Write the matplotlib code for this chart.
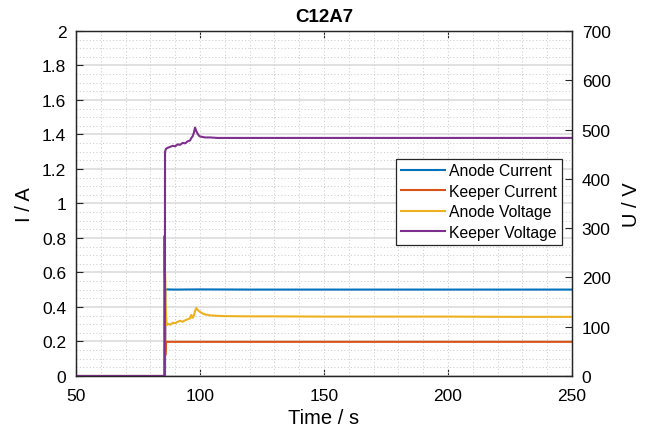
import matplotlib.pyplot as plt
from matplotlib.ticker import MultipleLocator

plt.rcParams['font.family'] = ['Liberation Sans', 'DejaVu Sans']

# Anode current / A
t_ia = [50, 85.9, 86.0, 90, 100, 120, 150, 200, 250]
ia = [0, 0, 0.502, 0.501, 0.502, 0.501, 0.501, 0.501, 0.501]

# Keeper current / A
t_ik = [50, 85.5, 85.6, 85.9, 86.0, 86.3, 100, 150, 200, 250]
ik = [0, 0, 0.81, 0.55, 0.12, 0.198, 0.198, 0.198, 0.198, 0.198]

# Anode voltage / V
t_ua = [50, 85.8, 85.9, 86.1, 86.5, 87, 88, 89, 90, 91, 92, 93, 94, 95, 96,
        96.5, 97, 97.5, 98, 98.5, 99, 100, 101, 102, 104, 107, 110, 120,
        130, 150, 175, 200, 225, 250]
ua = [0, 0, 210, 150, 103, 106, 104, 108, 107, 110, 112, 110, 113, 115, 117,
      124, 118, 122, 132, 138, 134, 130, 127, 125, 123, 122, 121.5, 121,
      121, 120.5, 120.5, 120.5, 120, 120]

# Keeper voltage / V
t_uk = [50, 85.8, 85.9, 86.3, 87, 88, 89, 90, 91, 92, 93, 94, 95, 96,
        96.5, 97, 97.5, 98, 98.5, 99, 99.5, 100, 101, 102, 104, 107, 110,
        120, 150, 200, 250]
uk = [0, 0, 455, 461, 463, 465, 467, 466, 470, 469, 473, 472, 476, 478,
      483, 486, 493, 504, 497, 492, 488, 486, 485, 484, 484, 483, 483,
      483, 483, 483, 483]

yticks_i = [i * 0.2 for i in range(11)]
yticklabels_i = ['0', '0.2', '0.4', '0.6', '0.8', '1', '1.2', '1.4', '1.6', '1.8', '2']

c_blue = '#0072BD'
c_red = '#D95319'
c_yel = '#EDB120'
c_pur = '#7E2F8E'
ax_col = '#262626'

fig = plt.figure(figsize=(6.47, 4.31), dpi=100)
ax = fig.add_axes([0.1175, 0.1253, 0.7665, 0.8005])
ax2 = ax.twinx()

l1, = ax.plot(t_ia, ia, color=c_blue, lw=1.5, label='Anode Current')
l2, = ax.plot(t_ik, ik, color=c_red, lw=1.5, label='Keeper Current')
l3, = ax2.plot(t_ua, ua, color=c_yel, lw=1.5, label='Anode Voltage')
l4, = ax2.plot(t_uk, uk, color=c_pur, lw=1.5, label='Keeper Voltage')

ax.set_xlim(50, 250)
ax.set_ylim(0, 2)
ax2.set_ylim(0, 700)
ax.xaxis.set_major_locator(MultipleLocator(50))
ax.xaxis.set_minor_locator(MultipleLocator(10))
ax.xaxis.remove_overlapping_locs = False
ax.set_yticks(yticks_i)
ax.set_yticklabels(yticklabels_i)
ax.yaxis.set_minor_locator(MultipleLocator(0.05))
ax2.yaxis.set_major_locator(MultipleLocator(100))

# solid major grid only horizontally, dotted minor grid both ways
ax.yaxis.grid(True, which='major', color='#d9d9d9', lw=1.1, ls='-')
ax.grid(True, which='minor', color='#cfcfcf', lw=0.7, ls=(0, (1.2, 2.2)))
ax.set_axisbelow(True)

for a in (ax, ax2):
    for s in a.spines.values():
        s.set_color(ax_col)
        s.set_linewidth(0.9)
    a.tick_params(which='both', direction='in', colors=ax_col, labelcolor='black',
                  labelsize=12.5)
    a.tick_params(which='minor', length=0)
    a.tick_params(which='major', length=5)
ax.tick_params(axis='x', top=True, pad=9)
ax.tick_params(axis='y', pad=7)
ax2.tick_params(axis='y', pad=7)

ax.set_xlabel('Time / s', fontsize=14.5, labelpad=3)
ax.set_ylabel('I / A', fontsize=14.5, labelpad=6)
ax2.set_ylabel('U / V', fontsize=14.5, labelpad=8)
ax.set_title('C12A7', fontsize=13.5, fontweight='bold', pad=7)

leg = ax2.legend(handles=[l1, l2, l3, l4], loc='upper right',
                 bbox_to_anchor=(0.98, 0.63), fontsize=11.3, frameon=True,
                 fancybox=False, framealpha=1, edgecolor=ax_col,
                 handlelength=2.8, handletextpad=0.3, borderpad=0.3,
                 labelspacing=0.35, borderaxespad=0)
leg.get_frame().set_linewidth(0.9)

fig.savefig('out.png', dpi=100)
